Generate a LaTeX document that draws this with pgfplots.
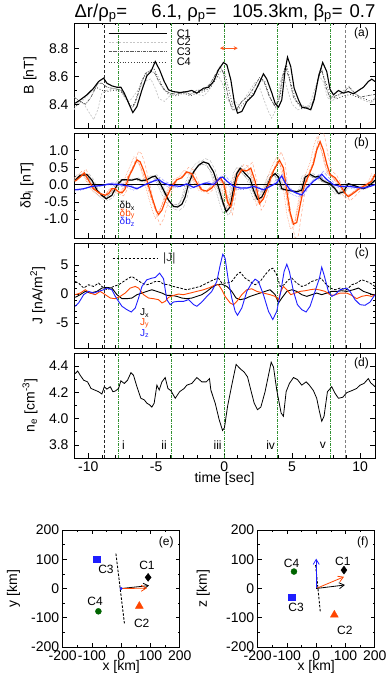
\documentclass[border=0pt]{standalone}
\usepackage{fontspec}
\setmainfont{Liberation Sans}
\usepackage{pgfplots}
\pgfplotsset{compat=1.18}
\usepackage{pgfplotstable}
\usetikzlibrary{arrows.meta}
\definecolor{myred}{RGB}{255,69,0}
\definecolor{myorange}{RGB}{255,90,30}
\definecolor{myblue}{RGB}{30,30,255}
\definecolor{mygreen}{RGB}{50,145,50}
\definecolor{dkgreen}{RGB}{0,100,0}
\newcommand{\tickfont}{\fontsize{14}{16}\selectfont}
\newcommand{\labfont}{\fontsize{14}{16}\selectfont}
\newcommand{\smfont}{\fontsize{12}{14}\selectfont}
\newcommand{\lgfont}{\fontsize{11}{12}\selectfont}
\newcommand{\tnfont}{\fontsize{10}{11}\selectfont}
\newcommand{\vl}[2]{\draw[#2] ({axis cs:#1,0}|-{rel axis cs:0,0}) -- ({axis cs:#1,0}|-{rel axis cs:0,1});}
\newcommand{\vlines}{%
\vl{-8.85}{black!85, dash pattern=on 3pt off 2pt, line width=0.6pt}%
\vl{8.9}{gray, dash pattern=on 3pt off 2pt, line width=0.6pt}%
\vl{-7.8}{mygreen, dash pattern=on 3pt off 1.2pt on 0.6pt off 1.2pt, line width=0.4pt}%
\vl{-3.9}{mygreen, dash pattern=on 3pt off 1.2pt on 0.6pt off 1.2pt, line width=0.4pt}%
\vl{0}{mygreen, dash pattern=on 3pt off 1.2pt on 0.6pt off 1.2pt, line width=0.4pt}%
\vl{3.9}{mygreen, dash pattern=on 3pt off 1.2pt on 0.6pt off 1.2pt, line width=0.4pt}%
\vl{7.8}{mygreen, dash pattern=on 3pt off 1.2pt on 0.6pt off 1.2pt, line width=0.4pt}%
}
\pgfplotsset{
  every axis/.append style={/pgf/number format/assume math mode=true,
    tick label style={font=\tickfont}, label style={font=\labfont},
    tick style={black, line width=0.6pt}, axis line style={line width=0.8pt}},
  tsax/.style={scale only axis, width=301pt, height=105pt, xmin=-11.05, xmax=11.1,
    xtick={-10,-5,0,5,10}, minor x tick num=4, tick align=inside,
    xtick pos=both, ytick pos=both, major tick length=5pt, minor tick length=2.5pt,
    yticklabel style={xshift=-2pt}},
  oneprec/.style={yticklabel style={/pgf/number format/fixed, /pgf/number format/fixed zerofill, /pgf/number format/precision=1}},
  sqax/.style={scale only axis, width=117pt, height=117pt, xmin=-200, xmax=200, ymin=-200, ymax=200,
    xtick={-200,-100,0,100,200}, ytick={-200,-100,0,100,200}, minor tick num=1, tick align=inside,
    xtick pos=both, ytick pos=both, major tick length=4pt, minor tick length=2pt,
    xlabel style={at={(axis description cs:0.5,-0.168)}, anchor=center}},
}
\pgfplotstableread[row sep=\\]{
t v\\
-10.96 0.13\\ -10.59 0.27\\ -10.10 0.29\\ -9.73 0.13\\ -9.36 -0.16\\ -9.00 -0.31\\ -8.68 -0.41\\ -8.26 -0.31\\
-7.89 -0.02\\ -7.52 0.14\\ -7.16 0.14\\ -6.79 0.13\\ -6.42 0.17\\ -6.05 0.11\\ -5.69 0.14\\ -5.32 0.22\\
-5.07 0.25\\ -4.83 0.13\\ -4.46 -0.16\\ -4.09 -0.45\\ -3.73 -0.63\\ -3.43 -0.65\\ -3.11 -0.57\\ -2.87 -0.36\\
-2.62 0.03\\ -2.25 0.37\\ -1.89 0.56\\ -1.52 0.66\\ -1.15 0.61\\ -0.78 0.37\\ -0.42 -0.07\\ -0.10 -0.50\\
0.15 -0.79\\ 0.44 -0.65\\ 0.69 -0.12\\ 0.93 0.32\\ 1.18 0.48\\ 1.54 0.32\\ 1.91 0.17\\ 2.16 -0.16\\
2.45 -0.43\\ 2.77 -0.36\\ 3.14 -0.07\\ 3.43 0.22\\ 3.75 0.32\\ 4.00 0.22\\ 4.24 -0.12\\ 4.61 -0.16\\
4.98 -0.18\\ 5.34 -0.21\\ 5.71 -0.16\\ 5.96 0.22\\ 6.32 0.30\\ 6.69 0.22\\ 6.94 0.24\\ 7.18 0.14\\
7.43 0.08\\ 7.79 0.03\\ 8.16 -0.12\\ 8.41 -0.26\\ 8.77 -0.21\\ 9.14 0.03\\ 9.51 -0.02\\ 9.88 -0.07\\
10.25 -0.12\\ 10.61 -0.05\\ 10.98 0.08\\ 11.10 0.13\\
}\tbx
\pgfplotstableread[row sep=\\]{
t v\\
-10.96 0.10\\ -10.59 0.22\\ -10.29 0.34\\ -9.98 0.13\\ -9.61 -0.12\\ -9.12 -0.26\\ -8.75 -0.31\\ -8.50 -0.26\\
-8.26 -0.12\\ -8.01 -0.12\\ -7.77 -0.21\\ -7.52 -0.24\\ -7.28 -0.12\\ -7.03 0.22\\ -6.72 0.46\\ -6.42 0.72\\
-6.18 0.66\\ -5.93 0.42\\ -5.69 0.13\\ -5.32 -0.36\\ -5.00 -0.74\\ -4.83 -0.87\\ -4.58 -0.74\\ -4.22 -0.36\\
-3.85 -0.05\\ -3.48 0.14\\ -3.11 0.20\\ -2.75 0.37\\ -2.38 0.32\\ -2.01 0.05\\ -1.64 -0.15\\ -1.27 -0.19\\
-0.91 -0.10\\ -0.54 0.10\\ -0.25 0.19\\ 0.00 0.00\\ 0.25 -0.50\\ 0.49 -0.65\\ 0.69 -0.31\\ 0.93 0.19\\
1.30 0.43\\ 1.67 0.40\\ 1.96 0.48\\ 2.28 0.10\\ 2.60 -0.55\\ 2.89 -0.41\\ 3.26 0.00\\ 3.63 0.40\\
4.07 0.71\\ 4.36 0.49\\ 4.61 -0.19\\ 4.85 -0.80\\ 5.10 -1.15\\ 5.34 -1.10\\ 5.59 -0.60\\ 5.88 -0.05\\
6.20 0.25\\ 6.57 0.60\\ 6.81 1.00\\ 7.06 1.25\\ 7.30 1.00\\ 7.55 0.60\\ 7.79 0.30\\ 8.16 0.20\\
8.53 0.00\\ 8.90 -0.25\\ 9.14 -0.35\\ 9.51 -0.25\\ 10.00 -0.10\\ 10.49 0.00\\ 10.86 0.10\\ 11.10 0.30\\
}\tby
\pgfplotstableread[row sep=\\]{
t v\\
-10.96 -0.15\\ -10.35 -0.12\\ -9.73 -0.05\\ -9.12 -0.03\\ -8.38 0.02\\ -7.65 0.00\\ -6.91 -0.05\\ -6.42 -0.12\\
-5.93 -0.02\\ -5.20 0.10\\ -4.83 0.15\\ -4.46 0.05\\ -3.97 -0.02\\ -3.24 -0.05\\ -2.75 0.02\\ -2.25 -0.08\\
-1.76 0.00\\ -1.27 0.05\\ -0.78 0.00\\ -0.29 0.20\\ -0.10 0.22\\ 0.20 0.10\\ 0.69 -0.05\\ 1.18 -0.10\\
1.67 -0.10\\ 2.16 -0.05\\ 2.89 -0.15\\ 3.38 -0.05\\ 3.87 0.05\\ 4.12 0.20\\ 4.24 0.25\\ 4.49 0.05\\
4.85 -0.15\\ 5.34 -0.25\\ 5.71 -0.30\\ 6.08 -0.10\\ 6.57 0.10\\ 6.94 0.20\\ 7.18 0.30\\ 7.55 0.15\\
8.04 0.00\\ 8.53 -0.05\\ 9.14 -0.05\\ 9.75 -0.08\\ 10.25 -0.10\\ 10.74 -0.05\\ 11.10 0.00\\
}\tbz
\begin{document}
\begin{tikzpicture}
\useasboundingbox (0,0) rectangle (387pt,675pt);
\node[font=\fontsize{18.5}{21}\selectfont, inner sep=0pt] at (225pt,662pt) {Δr/ρ\textsubscript{p}=\hspace{24pt}6.1, ρ\textsubscript{p}=\hspace{16pt}105.3km, β\textsubscript{p}=\hspace{7pt}0.7};
% ---------------- (a)
\begin{axis}[tsax, oneprec, at={(74pt,547pt)}, anchor=south west, ymin=8.23, ymax=8.98,
  ytick={8.4,8.6,8.8}, minor y tick num=1, xticklabels={}, ylabel={B [nT]},
  ylabel style={at={(axis description cs:-0.146,0.5)}, anchor=center}]
\vlines
\addplot[gray!45, dash pattern=on 2pt off 1.5pt, line width=0.7pt] coordinates {
(-11.05,8.36) (-10.7,8.42) (-10.3,8.40) (-10.0,8.35) (-9.6,8.29) (-9.3,8.36) (-9.0,8.48) (-8.6,8.50)
(-8.1,8.51) (-7.6,8.50) (-7.3,8.44) (-7.0,8.42) (-6.8,8.44) (-6.5,8.48) (-6.1,8.53) (-5.7,8.57)
(-5.4,8.58) (-5.1,8.52) (-4.8,8.44) (-4.4,8.42) (-4.0,8.46) (-3.5,8.49) (-3.0,8.47) (-2.5,8.50)
(-2.0,8.47) (-1.5,8.46) (-1.1,8.50) (-0.7,8.58) (-0.4,8.60) (-0.1,8.54) (0.2,8.44) (0.5,8.40)
(0.8,8.42) (1.1,8.39) (1.5,8.44) (1.9,8.50) (2.3,8.56) (2.6,8.52) (2.9,8.44) (3.2,8.36)
(3.5,8.30) (3.8,8.36) (4.1,8.55) (4.35,8.62) (4.6,8.52) (5.0,8.40) (5.4,8.36) (5.9,8.37)
(6.3,8.40) (6.7,8.52) (7.0,8.60) (7.3,8.56) (7.6,8.45) (7.9,8.42) (8.3,8.45) (8.8,8.50)
(9.2,8.53) (9.6,8.48) (10.0,8.44) (10.5,8.42) (10.9,8.41) (11.1,8.45)};
\addplot[black!65, dash pattern=on 3pt off 1pt on 0.7pt off 1pt, line width=0.7pt] coordinates {
(-11.05,8.45) (-10.6,8.42) (-10.2,8.40) (-9.8,8.45) (-9.3,8.55) (-9.0,8.55) (-8.6,8.52) (-8.0,8.51)
(-7.6,8.50) (-7.2,8.45) (-6.9,8.38) (-6.7,8.38) (-6.4,8.45) (-6.1,8.55) (-5.8,8.62) (-5.4,8.64)
(-5.1,8.62) (-4.8,8.56) (-4.4,8.50) (-4.0,8.48) (-3.5,8.47) (-3.0,8.49) (-2.5,8.47) (-2.0,8.50)
(-1.5,8.50) (-1.0,8.55) (-0.6,8.62) (-0.3,8.67) (-0.05,8.62) (0.3,8.45) (0.6,8.36) (0.9,8.36)
(1.3,8.42) (1.8,8.46) (2.2,8.52) (2.6,8.59) (2.9,8.57) (3.3,8.46) (3.7,8.39) (4.0,8.42)
(4.3,8.60) (4.5,8.67) (4.8,8.58) (5.1,8.45) (5.5,8.40) (6.0,8.38) (6.4,8.37) (6.7,8.48)
(7.0,8.63) (7.15,8.66) (7.5,8.52) (7.8,8.44) (8.2,8.46) (8.7,8.48) (9.2,8.52) (9.6,8.48)
(10.0,8.45) (10.5,8.46) (11.1,8.47)};
\addplot[black!75, dotted, line width=0.8pt] coordinates {
(-11.05,8.38) (-10.7,8.40) (-10.3,8.44) (-9.9,8.48) (-9.4,8.52) (-9.0,8.50) (-8.6,8.49) (-8.1,8.50)
(-7.6,8.49) (-7.2,8.44) (-6.9,8.39) (-6.6,8.40) (-6.3,8.50) (-6.0,8.58) (-5.6,8.63) (-5.2,8.66)
(-4.9,8.60) (-4.5,8.52) (-4.1,8.47) (-3.5,8.46) (-3.0,8.48) (-2.5,8.46) (-2.0,8.48) (-1.5,8.49)
(-1.0,8.52) (-0.6,8.58) (-0.25,8.64) (0.0,8.64) (0.35,8.50) (0.65,8.38) (1.0,8.36) (1.4,8.40)
(1.9,8.45) (2.3,8.50) (2.7,8.57) (3.0,8.56) (3.4,8.44) (3.8,8.38) (4.1,8.45) (4.4,8.63)
(4.6,8.68) (4.9,8.55) (5.3,8.42) (5.7,8.37) (6.2,8.38) (6.6,8.42) (6.9,8.57) (7.15,8.64)
(7.4,8.58) (7.8,8.46) (8.3,8.44) (8.8,8.46) (9.3,8.47) (9.8,8.45) (10.3,8.44) (10.8,8.42) (11.1,8.44)};
\addplot[black, line width=1.1pt] coordinates {
(-10.96,8.407) (-10.59,8.431) (-10.10,8.467) (-9.61,8.514) (-9.24,8.562) (-8.87,8.586) (-8.63,8.55)
(-8.26,8.531) (-7.89,8.521) (-7.60,8.521) (-7.35,8.479) (-7.03,8.407) (-6.72,8.34) (-6.42,8.383)
(-6.05,8.502) (-5.69,8.602) (-5.39,8.633) (-5.07,8.705) (-4.75,8.645) (-4.41,8.562) (-4.09,8.502)
(-3.73,8.49) (-3.24,8.483) (-2.75,8.49) (-2.38,8.498) (-2.01,8.479) (-1.52,8.514) (-1.15,8.521)
(-0.78,8.562) (-0.42,8.645) (-0.05,8.698) (0.20,8.681) (0.49,8.574) (0.76,8.407) (0.98,8.336)
(1.30,8.348) (1.67,8.419) (2.16,8.467) (2.52,8.538) (2.89,8.617) (3.14,8.579) (3.50,8.483)
(3.75,8.407) (4.00,8.379) (4.24,8.431) (4.49,8.645) (4.66,8.736) (4.90,8.669) (5.15,8.514)
(5.47,8.431) (5.71,8.379) (6.08,8.371) (6.37,8.36) (6.62,8.431) (6.94,8.593) (7.25,8.698)
(7.55,8.633) (7.79,8.507) (8.04,8.467) (8.41,8.498) (8.77,8.479) (9.14,8.49) (9.51,8.474)
(9.88,8.498) (10.25,8.521) (10.61,8.562) (10.86,8.579) (11.10,8.562)};
\draw[black, line width=1.1pt] (axis cs:-8.5,8.907) -- (axis cs:-4.2,8.907);
\draw[gray!45, dash pattern=on 2pt off 1.5pt, line width=0.7pt] (axis cs:-8.5,8.843) -- (axis cs:-4.2,8.843);
\draw[black!65, dash pattern=on 3pt off 1pt on 0.7pt off 1pt, line width=0.7pt] (axis cs:-8.5,8.776) -- (axis cs:-4.2,8.776);
\draw[black!75, dotted, line width=0.8pt] (axis cs:-8.5,8.70) -- (axis cs:-4.2,8.70);
\node[font=\lgfont, anchor=west, inner sep=0pt] at (axis cs:-3.5,8.907) {C1};
\node[font=\lgfont, anchor=west, inner sep=0pt] at (axis cs:-3.5,8.843) {C2};
\node[font=\lgfont, anchor=west, inner sep=0pt] at (axis cs:-3.5,8.776) {C3};
\node[font=\lgfont, anchor=west, inner sep=0pt] at (axis cs:-3.5,8.70) {C4};
\draw[myorange, line width=1pt, {Stealth[length=4pt,width=4pt]}-{Stealth[length=4pt,width=4pt]}] (axis cs:-0.3,8.80) -- (axis cs:1.0,8.80);
\node[font=\smfont, anchor=north east, inner sep=0pt] at ([xshift=-6pt,yshift=-5pt]rel axis cs:1,1) {(a)};
\end{axis}
% ---------------- (b)
\begin{axis}[tsax, oneprec, at={(74pt,437pt)}, anchor=south west, ymin=-1.55, ymax=1.5,
  ytick={-1,-0.5,0,0.5,1}, minor y tick num=1, xticklabels={}, ylabel={δb\textsubscript{i} [nT]},
  ylabel style={at={(axis description cs:-0.156,0.5)}, anchor=center}]
\vlines
\addplot[gray!55, densely dashed, line width=0.5pt] table[x expr=\thisrow{t}+0.12, y expr=1.15*\thisrow{v}] {\tbx};
\addplot[gray!70, densely dotted, line width=0.6pt] table[x expr=\thisrow{t}-0.25, y expr=1.05*\thisrow{v}] {\tbx};
\addplot[gray!80, dash pattern=on 3pt off 1pt on 0.7pt off 1pt, line width=0.5pt] table[x expr=\thisrow{t}-0.12, y expr=0.9*\thisrow{v}] {\tbx};
\addplot[myred!45, densely dashed, line width=0.5pt] table[x expr=\thisrow{t}+0.12, y expr=1.35*\thisrow{v}] {\tby};
\addplot[myred!55, densely dotted, line width=0.6pt] table[x expr=\thisrow{t}-0.22, y expr=1.12*\thisrow{v}] {\tby};
\addplot[myred!60, dash pattern=on 3pt off 1pt on 0.7pt off 1pt, line width=0.5pt] table[x expr=\thisrow{t}-0.1, y expr=0.95*\thisrow{v}] {\tby};
\addplot[myblue!45, densely dashed, line width=0.5pt] table[x expr=\thisrow{t}+0.12, y expr=1.2*\thisrow{v}+0.03] {\tbz};
\addplot[myblue!55, densely dotted, line width=0.6pt] table[x expr=\thisrow{t}-0.22, y expr=1.1*\thisrow{v}-0.03] {\tbz};
\addplot[black, line width=0.8pt] coordinates {(-11.05,0) (11.1,0)};
\addplot[black, line width=1.2pt] table[x=t, y=v] {\tbx};
\addplot[myred, line width=1.2pt] table[x=t, y=v] {\tby};
\addplot[myblue, line width=1.2pt] table[x=t, y=v] {\tbz};
\node[font=\tnfont, anchor=west, inner sep=0pt, text=black] at (axis cs:-7.7,-0.62) {δb\textsubscript{x}};
\node[font=\tnfont, anchor=west, inner sep=0pt, text=myred] at (axis cs:-7.7,-0.86) {δb\textsubscript{y}};
\node[font=\tnfont, anchor=west, inner sep=0pt, text=myblue] at (axis cs:-7.7,-1.08) {δb\textsubscript{z}};
\node[font=\smfont, anchor=north east, inner sep=0pt] at ([xshift=-6pt,yshift=-5pt]rel axis cs:1,1) {(b)};
\end{axis}
% ---------------- (c)
\begin{axis}[tsax, at={(74pt,327pt)}, anchor=south west, ymin=-9.3, ymax=8.8,
  ytick={-5,0,5}, minor y tick num=4, xticklabels={}, ylabel={J [nA/m\textsuperscript{2}]},
  ylabel style={at={(axis description cs:-0.12,0.5)}, anchor=center}]
\vlines
\addplot[black, dash pattern=on 2.5pt off 1.5pt, line width=0.8pt] coordinates {
(-10.96,2.17) (-10.71,1.89) (-10.34,1.03) (-9.98,1.60) (-9.61,1.31) (-9.24,1.89) (-9.00,1.31) (-8.63,0.74)
(-8.14,1.31) (-7.77,1.60) (-7.40,2.17) (-7.03,2.74) (-6.79,3.03) (-6.42,2.46) (-6.05,1.89) (-5.69,1.60)
(-5.32,1.89) (-5.07,2.17) (-4.75,2.17) (-4.46,1.71) (-4.09,1.60) (-3.73,1.31) (-3.24,1.03) (-2.75,0.74)
(-2.25,1.03) (-1.76,1.31) (-1.27,1.89) (-0.78,2.46) (-0.42,2.74) (-0.17,1.89) (0.20,1.89) (0.56,2.17)
(0.93,3.31) (1.18,3.77) (1.54,2.74) (1.91,2.17) (2.28,1.60) (2.65,2.17) (3.01,3.31) (3.33,4.17)
(3.58,4.46) (3.87,3.31) (4.12,1.31) (4.41,1.60) (4.73,2.46) (4.98,2.74) (5.34,1.89) (5.71,1.31)
(6.08,1.60) (6.45,2.17) (6.81,2.46) (7.11,2.74) (7.43,1.89) (7.79,1.03) (8.16,0.74) (8.53,1.03)
(9.02,0.74) (9.39,1.60) (9.75,1.89) (10.12,2.46) (10.49,2.17) (10.74,1.89) (11.10,1.31)};
\addplot[black, line width=0.9pt] coordinates {
(-10.96,-0.57) (-10.59,-0.11) (-10.22,0.46) (-9.85,0.17) (-9.36,0.46) (-9.00,1.03) (-8.63,1.14) (-8.26,1.03)
(-7.89,-0.11) (-7.52,-0.80) (-7.16,-0.80) (-6.79,-0.69) (-6.42,-0.11) (-6.05,0.17) (-5.69,0.46) (-5.32,0.74)
(-4.95,0.46) (-4.58,0.17) (-4.22,-0.23) (-3.85,-0.23) (-3.48,-0.40) (-3.11,-0.69) (-2.75,-0.80) (-2.38,-0.69)
(-2.01,-0.40) (-1.64,-0.11) (-1.27,0.46) (-0.91,1.14) (-0.54,1.60) (-0.17,1.71) (0.20,1.31) (0.56,0.46)
(0.88,-0.69) (1.18,-0.97) (1.54,-0.80) (1.91,-0.40) (2.28,-0.11) (2.65,0.17) (3.01,0.46) (3.38,0.74)
(3.75,-0.11) (4.00,-1.54) (4.24,-0.69) (4.61,0.46) (4.98,0.74) (5.34,0.46) (5.71,-0.11) (6.08,-0.40)
(6.45,-0.11) (6.81,0.17) (7.18,-0.11) (7.55,0.17) (7.92,0.46) (8.28,0.46) (8.65,0.57) (9.02,0.46)
(9.51,0.74) (9.88,1.03) (10.25,0.46) (10.61,0.17) (11.10,-0.23)};
\addplot[myred, line width=0.9pt] coordinates {
(-10.96,-0.11) (-10.59,0.17) (-10.22,0.74) (-9.85,0.17) (-9.49,-0.11) (-9.12,0.46) (-8.75,-0.11) (-8.38,-0.69)
(-8.01,-0.80) (-7.65,-0.40) (-7.28,0.17) (-6.91,1.03) (-6.54,1.31) (-6.30,1.03) (-5.93,-0.11) (-5.56,-0.69)
(-5.20,-0.80) (-4.83,-0.97) (-4.58,-1.54) (-4.34,-1.26) (-4.09,-0.57) (-3.73,-0.23) (-3.36,0.00) (-3.00,-0.11)
(-2.50,0.17) (-2.01,0.46) (-1.52,0.74) (-1.03,1.14) (-0.66,1.60) (-0.42,1.60) (-0.17,0.74) (0.07,-0.40)
(0.44,-1.54) (0.69,-1.83) (0.93,-1.26) (1.30,-0.11) (1.67,0.74) (2.03,0.91) (2.40,0.46) (2.89,0.17)
(3.38,-0.11) (3.75,-0.40) (4.00,-0.97) (4.17,0.46) (4.36,1.31) (4.61,0.74) (4.90,-0.11) (5.22,0.17)
(5.59,0.46) (5.96,0.57) (6.32,0.74) (6.69,0.86) (7.06,0.69) (7.43,0.46) (7.79,-0.11) (8.04,-0.23)
(8.53,0.17) (9.02,0.17) (9.39,-0.23) (9.75,-0.80) (10.12,-0.40) (10.49,-0.23) (10.86,-0.40) (11.10,-0.11)};
\addplot[myblue, line width=0.9pt] coordinates {
(-10.96,-2.11) (-10.71,-1.54) (-10.34,-0.11) (-9.98,0.46) (-9.61,0.17) (-9.24,0.46) (-8.87,0.74) (-8.63,1.03)
(-8.26,0.74) (-8.01,-0.40) (-7.77,-1.26) (-7.52,-2.11) (-7.16,-2.69) (-6.84,-3.09) (-6.54,-2.40) (-6.30,-0.69)
(-6.05,1.31) (-5.69,2.46) (-5.32,2.74) (-5.07,2.86) (-4.75,3.60) (-4.46,2.63) (-4.22,-0.97) (-3.97,-1.83)
(-3.73,-1.37) (-3.36,-1.26) (-2.99,-1.26) (-2.62,-0.97) (-2.25,-1.83) (-2.01,-2.11) (-1.64,-1.37) (-1.27,-0.40)
(-0.91,0.46) (-0.54,2.17) (-0.29,5.03) (-0.10,6.86) (0.07,6.17) (0.32,2.17) (0.56,-0.69) (0.81,-2.97)
(0.98,-3.66) (1.30,-2.40) (1.67,0.46) (2.03,1.89) (2.28,2.57) (2.52,2.17) (2.89,-0.11) (3.26,-2.97)
(3.58,-4.40) (3.87,-2.97) (4.17,0.46) (4.41,3.89) (4.61,5.14) (4.80,3.89) (5.10,0.46) (5.39,-1.83)
(5.71,-2.69) (6.03,-3.09) (6.32,-2.11) (6.69,0.46) (7.01,2.74) (7.18,4.63) (7.35,3.31) (7.67,0.46)
(7.92,-0.40) (8.16,-0.11) (8.53,0.74) (9.02,1.03) (9.26,0.46) (9.63,-0.97) (10.00,-1.83) (10.37,-1.94)
(10.74,-1.37) (11.10,-0.11)};
\draw[black, dash pattern=on 2.5pt off 1.5pt, line width=0.8pt] (axis cs:-8.2,6.2) -- (axis cs:-4.95,6.2);
\node[font=\smfont, anchor=west, inner sep=0pt, text=black!80] at (axis cs:-4.5,6.2) {|J|};
\node[font=\tnfont, anchor=west, inner sep=0pt, text=black] at (axis cs:-6.2,-3.3) {J\textsubscript{x}};
\node[font=\tnfont, anchor=west, inner sep=0pt, text=myred] at (axis cs:-6.2,-5.0) {J\textsubscript{y}};
\node[font=\tnfont, anchor=west, inner sep=0pt, text=myblue] at (axis cs:-6.2,-6.8) {J\textsubscript{z}};
\node[font=\smfont, anchor=north east, inner sep=0pt] at ([xshift=-6pt,yshift=-5pt]rel axis cs:1,1) {(c)};
\end{axis}
% ---------------- (d)
\begin{axis}[tsax, oneprec, at={(74pt,217pt)}, anchor=south west, ymin=3.70, ymax=4.50,
  ytick={3.8,4.0,4.2,4.4}, minor y tick num=1, xlabel={time [sec]},
  xlabel style={at={(axis description cs:0.5,-0.2)}, anchor=center},
  ylabel={n\textsubscript{e} [cm\textsuperscript{-3}]},
  ylabel style={at={(axis description cs:-0.146,0.5)}, anchor=center}]
\vlines
\addplot[black, line width=0.8pt] coordinates {
(-10.96,4.343) (-10.78,4.363) (-10.59,4.330) (-10.34,4.293) (-10.05,4.280) (-9.80,4.230) (-9.53,4.218)
(-9.24,4.205) (-9.00,4.188) (-8.82,4.243) (-8.63,4.225) (-8.38,4.243) (-8.19,4.205) (-8.01,4.210)
(-7.77,4.230) (-7.60,4.288) (-7.35,4.268) (-7.11,4.293) (-6.86,4.350) (-6.67,4.330) (-6.42,4.243)
(-6.13,4.155) (-5.88,4.143) (-5.69,4.118) (-5.49,4.105) (-5.32,4.088) (-5.15,4.118) (-4.95,4.255)
(-4.78,4.218) (-4.58,4.280) (-4.34,4.313) (-4.14,4.230) (-3.92,4.213) (-3.60,4.155) (-3.28,4.205)
(-2.94,4.230) (-2.75,4.255) (-2.38,4.268) (-2.01,4.313) (-1.64,4.280) (-1.32,4.280) (-1.08,4.305)
(-0.98,4.218) (-0.66,4.118) (-0.37,3.993) (-0.12,3.910) (0.02,3.930) (0.25,4.093) (0.56,4.255)
(0.88,4.413) (1.18,4.380) (1.47,4.355) (1.72,4.318) (1.96,4.218) (2.21,4.118) (2.45,4.068)
(2.70,4.088) (3.01,4.205) (3.26,4.330) (3.46,4.430) (3.63,4.393) (3.87,4.218) (4.19,4.043)
(4.36,4.018) (4.56,4.205) (4.80,4.268) (5.10,4.313) (5.39,4.298) (5.71,4.255) (6.03,4.280)
(6.27,4.255) (6.57,4.213) (6.81,4.155) (7.01,4.055) (7.18,3.980) (7.35,4.018) (7.60,4.205)
(7.92,4.243) (8.16,4.193) (8.41,4.155) (8.73,4.163) (9.02,4.198) (9.39,4.213) (9.75,4.230)
(10.00,4.255) (10.29,4.268) (10.61,4.305) (10.78,4.273) (10.98,4.255) (11.10,4.243)};
\node[font=\smfont, anchor=west, inner sep=0pt] at (axis cs:-7.52,3.80) {i};
\node[font=\smfont, anchor=east, inner sep=0pt] at (axis cs:-4.21,3.80) {ii};
\node[font=\smfont, anchor=east, inner sep=0pt] at (axis cs:-0.17,3.80) {iii};
\node[font=\smfont, anchor=east, inner sep=0pt] at (axis cs:3.75,3.80) {iv};
\node[font=\smfont, anchor=east, inner sep=0pt] at (axis cs:7.5,3.80) {v};
\node[font=\smfont, anchor=north east, inner sep=0pt] at ([xshift=-6pt,yshift=-5pt]rel axis cs:1,1) {(d)};
\end{axis}
% ---------------- (e)
\begin{axis}[sqax, at={(62.7pt,28pt)}, anchor=south west, xlabel={x [km]}, ylabel={y [km]},
  ylabel style={at={(axis description cs:-0.42,0.5)}, anchor=center}]
\addplot[black, dash pattern=on 2.5pt off 1.5pt, line width=0.9pt] coordinates {(-18,119) (11,-119)};
\addplot[black, line width=0.8pt, -{Straight Barb[length=5pt,width=6pt]}] coordinates {(0,0) (95,10)};
\addplot[myred, line width=0.8pt, -{Straight Barb[length=5pt,width=6pt]}] coordinates {(0,0) (88,1)};
\addplot[only marks, mark=*, myblue, mark size=1.2pt] coordinates {(0,0)};
\addplot[only marks, mark=diamond*, mark size=4pt, black] coordinates {(92,38)};
\addplot[only marks, mark=triangle*, mark size=4.5pt, myred] coordinates {(62,-60)};
\addplot[only marks, mark=square*, mark size=3.3pt, myblue] coordinates {(-84,100)};
\addplot[only marks, mark=*, mark size=3pt, dkgreen] coordinates {(-78,-78)};
\node[font=\smfont, inner sep=0pt] at (axis cs:88,79) {C1};
\node[font=\smfont, inner sep=0pt] at (axis cs:70,-118) {C2};
\node[font=\smfont, inner sep=0pt] at (axis cs:-52,67) {C3};
\node[font=\smfont, inner sep=0pt] at (axis cs:-89,-45) {C4};
\node[font=\smfont, anchor=north east, inner sep=0pt] at ([xshift=-6pt,yshift=-7pt]rel axis cs:1,1) {(e)};
\end{axis}
% ---------------- (f)
\begin{axis}[sqax, at={(257.7pt,28pt)}, anchor=south west, xlabel={x [km]}, ylabel={z [km]},
  ylabel style={at={(axis description cs:-0.465,0.5)}, anchor=center}]
\addplot[black, dash pattern=on 2.5pt off 1.5pt, line width=0.9pt] coordinates {(-2,80) (14,-80)};
\addplot[myblue, line width=0.8pt, -{Straight Barb[length=5pt,width=6pt]}] coordinates {(0,0) (0,102)};
\addplot[myred, line width=0.8pt, -{Straight Barb[length=5pt,width=6pt]}] coordinates {(0,0) (95,40)};
\addplot[black, line width=0.8pt, -{Straight Barb[length=5pt,width=6pt]}] coordinates {(0,0) (98,12)};
\addplot[only marks, mark=diamond*, mark size=4pt, black] coordinates {(95,63)};
\addplot[only marks, mark=triangle*, mark size=4.5pt, myred] coordinates {(62,-90)};
\addplot[only marks, mark=square*, mark size=3.3pt, myblue] coordinates {(-84,-30)};
\addplot[only marks, mark=*, mark size=3pt, dkgreen] coordinates {(-76,58)};
\node[font=\smfont, inner sep=0pt] at (axis cs:91,94) {C1};
\node[font=\smfont, inner sep=0pt] at (axis cs:98,-142) {C2};
\node[font=\smfont, inner sep=0pt] at (axis cs:-69,-66) {C3};
\node[font=\smfont, inner sep=0pt] at (axis cs:-84,85) {C4};
\node[font=\smfont, anchor=north east, inner sep=0pt] at ([xshift=-6pt,yshift=-7pt]rel axis cs:1,1) {(f)};
\end{axis}
\end{tikzpicture}
\end{document}
